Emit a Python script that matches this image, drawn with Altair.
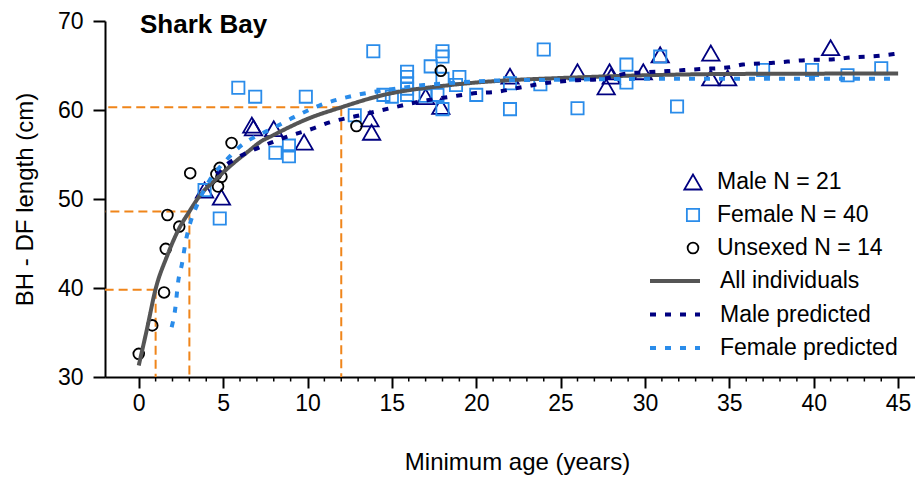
import altair as alt
import pandas as pd

# ---------------- data ----------------
male_age = [3.9, 4.9, 6.7, 6.8, 8.0, 9.8, 13.7, 13.8, 17.0, 17.9, 22.0,
            26.0, 27.7, 27.9, 28.0, 29.9, 30.9, 33.9, 33.9, 34.9, 41.0]
male_len = [51.0, 50.2, 58.3, 58.0, 57.9, 56.4, 59.0, 57.5, 61.5, 60.4, 63.8,
            64.3, 62.6, 64.3, 63.8, 64.3, 66.2, 66.4, 63.6, 63.6, 67.0]

female_age = [3.9, 4.8, 5.9, 6.9, 8.1, 8.9, 8.9, 9.9, 12.8, 13.9, 14.5, 15.0,
              15.9, 15.9, 15.9, 15.9, 15.9, 17.0, 17.3, 17.7, 18.0, 18.0, 18.0,
              18.0, 18.8, 19.0, 20.0, 22.0, 22.0, 23.8, 24.0, 26.0, 28.9, 28.9,
              30.9, 31.9, 37.0, 39.9, 42.0, 44.0]
female_len = [51.0, 47.8, 62.5, 61.5, 55.2, 56.0, 54.8, 61.5, 59.4, 66.6, 61.7, 61.5,
              64.3, 63.7, 63.0, 62.4, 61.7, 61.6, 64.9, 61.7, 66.6, 66.0, 63.5,
              60.1, 62.8, 63.7, 61.7, 60.1, 63.0, 62.9, 66.8, 60.2, 65.1, 63.1,
              66.0, 60.4, 64.5, 64.5, 63.9, 64.7]

unsexed_age = [0.0, 0.8, 1.5, 1.6, 1.7, 2.4, 3.05, 4.6, 4.7, 4.8, 4.9, 5.5, 12.9, 17.9]
unsexed_len = [32.6, 35.8, 39.5, 44.4, 48.2, 46.9, 52.9, 52.8, 51.4, 53.5, 52.5, 56.3, 58.2, 64.4]

all_age = [0, 0.5, 1, 1.66, 2.34, 3, 3.63, 4.62, 5.6, 6.59, 7.19, 8, 10, 12,
           14.3, 18.45, 22, 24.4, 30, 35, 45]
all_len = [31.3, 35.5, 39.9, 43.5, 46.5, 48.6, 50.4, 52.3, 54.0, 55.5, 56.4, 57.2, 59.0, 60.3,
           61.6, 62.8, 63.35, 63.55, 63.9, 64.05, 64.1]

male_pred_age = [4.6, 5.3, 5.9, 6.9, 7.8, 8.8, 10.3, 11.3, 13.1, 14.9, 17.1, 18.5,
                 20.0, 21.0, 22.8, 24.4, 25.6, 27.5, 28.9, 30.7, 33.3, 35.0, 35.8,
                 37.6, 39.5, 41.2, 42.2, 43.9, 44.8]
male_pred_len = [52.8, 54.0, 54.7, 55.6, 56.3, 57.0, 57.9, 58.6, 59.4, 60.2, 61.1, 61.5,
                 61.9, 62.0, 62.6, 63.1, 63.3, 63.5, 64.1, 64.3, 64.6, 64.8, 65.1,
                 65.3, 65.6, 65.7, 65.9, 66.1, 66.3]

female_pred_age = [1.95, 2.15, 2.35, 2.55, 2.8, 3.05, 3.45, 4.2, 5.2, 6.2, 7.0, 7.9,
                   9.2, 10.7, 12.7, 14.5, 16.9, 19.0, 21.0, 25.0, 30.0, 45.0]
female_pred_len = [35.6, 37.5, 40.9, 42.6, 45.4, 47.3, 49.3, 52.1, 54.4, 56.2, 57.1, 57.9,
                   59.2, 60.5, 61.6, 62.2, 62.8, 63.1, 63.3, 63.4, 63.5, 63.5]

ref_age = [1, 3, 12]
ref_len = [39.8, 48.6, 60.3]

major_ticks = [0, 5, 10, 15, 20, 25, 30, 35, 40, 45]
minor_ticks = [v for v in range(0, 46) if v % 5 != 0]
y_ticks = [30, 40, 50, 60, 70]

group_labels = ["Male N = 21", "Female N = 40", "Unsexed N = 14"]
line_labels = ["All individuals", "Male predicted", "Female predicted"]

# ---------------- style ----------------
FONT = "Liberation Sans"
NAVY = "#000080"
BLUE = "#2A8CEA"
GRAY = "#555555"
ORANGE = "#F0851A"
W, H = 810, 356

points = pd.concat([
    pd.DataFrame({"age": male_age, "len": male_len, "group": group_labels[0]}),
    pd.DataFrame({"age": female_age, "len": female_len, "group": group_labels[1]}),
    pd.DataFrame({"age": unsexed_age, "len": unsexed_len, "group": group_labels[2]}),
])
lines = pd.concat([
    pd.DataFrame({"age": all_age, "len": all_len, "series": line_labels[0]}),
    pd.DataFrame({"age": male_pred_age, "len": male_pred_len, "series": line_labels[1]}),
    pd.DataFrame({"age": female_pred_age, "len": female_pred_len, "series": line_labels[2]}),
])
refs = pd.DataFrame({"age": ref_age, "len": ref_len})
minor_df = pd.DataFrame({"age": minor_ticks})

x_scale = alt.Scale(domain=[-2, 46], nice=False, zero=False)
y_scale = alt.Scale(domain=[30, 70], nice=False, zero=False)

x_axis = alt.Axis(
    title="Minimum age (years)",
    values=major_ticks,
    tickSize=11,
    labelPadding=4,
    labelFlush=False,
    titleX=412, titleY=92, titleAlign="center", titleBaseline="alphabetic",
)
y_axis = alt.Axis(
    title="BH - DF length (cm)",
    values=y_ticks,
    tickSize=12,
    labelPadding=10,
    titleX=-73, titleY=178, titleAngle=-90, titleAlign="center", titleBaseline="alphabetic",
)
x_enc = alt.X("age:Q", scale=x_scale, axis=x_axis)
y_enc = alt.Y("len:Q", scale=y_scale, axis=y_axis)

pt_legend = alt.Legend(
    title=None, orient="none", legendX=576.5, legendY=149.5, padding=0,
    labelFont=FONT, labelFontSize=23, labelColor="black", labelOffset=12.5, labelLimit=0,
    rowPadding=9, symbolStrokeWidth=1.8,
)
line_legend = alt.Legend(
    title=None, orient="none", legendX=543, legendY=248.5, padding=0,
    labelFont=FONT, labelFontSize=23, labelColor="black", labelOffset=18, labelLimit=0,
    symbolType="stroke", symbolSize=2500, symbolStrokeWidth=4, clipHeight=23,
    rowPadding=9.5,
)

h_rules = alt.Chart(refs).mark_rule(color=ORANGE, strokeWidth=2, strokeDash=[9, 5]).encode(
    x=x_enc, x2=alt.value(0), y=y_enc
)
v_rules = alt.Chart(refs).mark_rule(color=ORANGE, strokeWidth=2, strokeDash=[9, 5]).encode(
    x=x_enc, y=y_enc, y2=alt.value(H)
)

# short minor ticks under the x axis, one per year
minor = alt.Chart(minor_df).mark_rule(color="black", strokeWidth=1.5).encode(
    x=x_enc, y=alt.value(H + 1), y2=alt.value(H + 4.5)
)

pts = alt.Chart(points).mark_point(filled=False, strokeWidth=1.8, opacity=1).encode(
    x=x_enc, y=y_enc,
    color=alt.Color("group:N", scale=alt.Scale(domain=group_labels, range=[NAVY, BLUE, "black"]), legend=pt_legend),
    shape=alt.Shape("group:N", scale=alt.Scale(domain=group_labels, range=["triangle-up", "square", "circle"]), legend=pt_legend),
    size=alt.Size("group:N", scale=alt.Scale(type="ordinal", domain=group_labels, range=[300, 150, 115]), legend=pt_legend),
)

lns = alt.Chart(lines).mark_line(strokeWidth=4, interpolate="monotone").encode(
    x=x_enc, y=y_enc,
    stroke=alt.Stroke("series:N", scale=alt.Scale(domain=line_labels, range=[GRAY, NAVY, BLUE]), legend=line_legend),
    strokeDash=alt.StrokeDash("series:N", scale=alt.Scale(domain=line_labels, range=[[1, 0], [6, 9], [6, 9]]), legend=line_legend),
)

title_txt = alt.Chart(pd.DataFrame({"t": ["Shark Bay"]})).mark_text(
    align="left", baseline="alphabetic", font=FONT, fontSize=26, fontWeight="bold", color="black"
).encode(text="t:N", x=alt.value(35), y=alt.value(12))

chart = alt.layer(h_rules, v_rules, minor, pts, lns, title_txt).properties(
    width=W, height=H,
    autosize=alt.AutoSizeParams(type="none"),
    padding={"left": 105, "top": 21, "right": 0, "bottom": 101},
).configure_view(stroke=None).configure_axis(
    grid=False,
    domainColor="black", domainWidth=2,
    tickColor="black", tickWidth=2,
    labelFont=FONT, labelFontSize=23, labelColor="black",
    titleFont=FONT, titleFontSize=24, titleColor="black", titleFontWeight="normal",
)

chart.save("out.html", embed_options={"renderer": "svg", "actions": False})
